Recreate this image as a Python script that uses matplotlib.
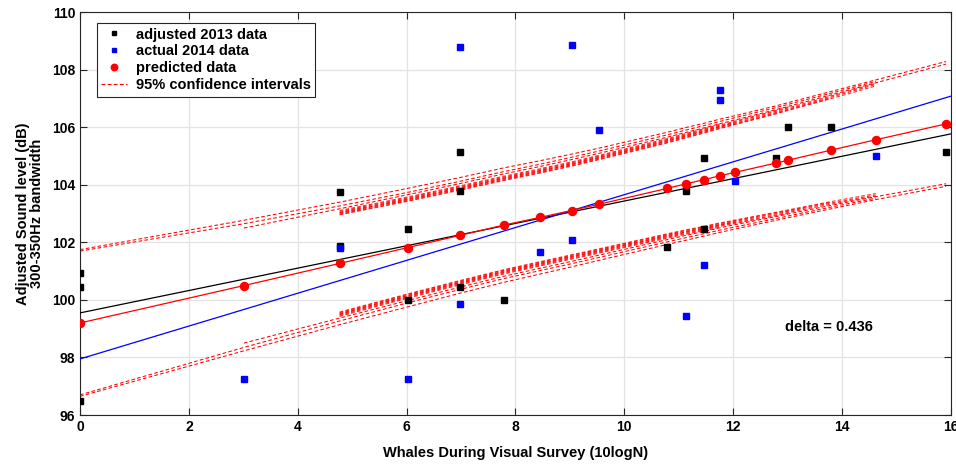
import numpy as np
import matplotlib
matplotlib.use("Agg")
import matplotlib.pyplot as plt

plt.rcParams['font.family'] = ['Liberation Sans', 'DejaVu Sans']
plt.rcParams['font.weight'] = 'bold'

# adjusted 2013 data (black squares)
x_2013 = [0, 0, 0, 4.77, 4.77, 6.02, 6.02, 6.99, 6.99, 6.99, 7.78,
          10.79, 11.14, 11.46, 11.46, 12.79, 13.01, 13.80, 15.91]
y_2013 = [100.95, 100.45, 96.5, 103.75, 101.87, 102.45, 100.0, 105.15, 103.8,
          100.45, 100.0, 101.85, 103.8, 104.95, 102.45, 104.95, 106.0, 106.0, 105.15]

# actual 2014 data (blue squares)
x_2014 = [3.01, 4.77, 6.02, 6.99, 6.99, 8.45, 9.03, 9.03, 9.54,
          11.14, 11.46, 11.76, 11.76, 12.04, 14.62]
y_2014 = [97.25, 101.82, 97.25, 108.8, 99.85, 101.65, 108.85, 102.1, 105.9,
          99.45, 101.2, 107.3, 106.95, 104.15, 105.0]

# predicted data (red circles)
x_pred = [0, 3.01, 4.77, 6.02, 6.99, 7.78, 8.45, 9.03, 9.54, 10.79,
          11.14, 11.46, 11.76, 12.04, 12.79, 13.01, 13.80, 14.62, 15.91]
y_pred = [99.2, 100.5, 101.27, 101.82, 102.25, 102.6, 102.87, 103.11, 103.33, 103.88,
          104.04, 104.18, 104.32, 104.44, 104.76, 104.86, 105.21, 105.57, 106.12]

# linear fits (intercept, slope)
fit_2013 = (99.55, 0.389)
fit_2014 = (97.95, 0.571)

# confidence interval half widths, one list per run (start index, end index)
ci_start = [0, 0, 1]
ci_end = [18, 17, 18]
ci_halfwidth = [
    [2.55, 2.27, 2.13, 2.06, 2.01, 1.99, 1.97, 1.96, 1.95, 1.95,
     1.96, 1.96, 1.97, 1.97, 1.99, 2.0, 2.04, 2.08, 2.17],
    [2.5, 2.15, 2.0, 1.92, 1.88, 1.86, 1.85, 1.85, 1.85, 1.86,
     1.87, 1.88, 1.89, 1.9, 1.93, 1.94, 1.98, 2.03],
    [2.0, 1.9, 1.84, 1.8, 1.78, 1.77, 1.77, 1.77, 1.78, 1.79,
     1.8, 1.81, 1.82, 1.86, 1.87, 1.92, 1.98, 2.08],
]
# tight bundle of runs starting at 4.77
bundle_halfwidth = [1.74, 1.66, 1.62, 1.6, 1.59, 1.59, 1.6, 1.63, 1.65, 1.67,
                    1.69, 1.71, 1.76, 1.78, 1.84, 1.92, 2.06]
bundle_shift = [0.0, 0.04, -0.03, 0.07, 0.02, -0.05, 0.1]
bundle_end = [17, 17, 16, 15, 13, 17, 12]

delta_text = "delta = 0.436"

fig = plt.figure(figsize=(9.56, 4.65), dpi=100)
ax = fig.add_axes([0.0837, 0.1075, 0.911, 0.866])

xp = np.array(x_pred)
yp = np.array(y_pred)

ci_kw = dict(color='red', lw=0.75, ls=(0, (3.5, 2.2)), zorder=2)
for s, e, hw in zip(ci_start, ci_end, ci_halfwidth):
    hw = np.array(hw)
    ax.plot(xp[s:e + 1], yp[s:e + 1] + hw, **ci_kw)
    ax.plot(xp[s:e + 1], yp[s:e + 1] - hw, **ci_kw)
for sh, e in zip(bundle_shift, bundle_end):
    hw = np.array(bundle_halfwidth[:e - 1]) + sh
    ax.plot(xp[2:e + 1], yp[2:e + 1] + hw, alpha=0.85, **ci_kw)
    ax.plot(xp[2:e + 1], yp[2:e + 1] - hw, alpha=0.85, **ci_kw)

xl = np.array([0, 16])
ax.plot(xl, fit_2013[0] + fit_2013[1] * xl, color='black', lw=0.9, zorder=3)
ax.plot(xl, fit_2014[0] + fit_2014[1] * xl, color='blue', lw=0.9, zorder=3)
ax.plot(xp, yp, color='red', lw=0.9, zorder=3)

ax.plot(x_2013, y_2013, 's', color='black', ms=4.3, ls='none', zorder=4,
        label='adjusted 2013 data')
ax.plot(x_2014, y_2014, 's', color='blue', ms=4.3, ls='none', zorder=4,
        label='actual 2014 data')
ax.plot(x_pred, y_pred, 'o', color='red', ms=5.8, ls='none', zorder=5,
        label='predicted data')
ax.plot([], [], color='red', lw=0.8, ls=(0, (3.5, 2)), label='95% confidence intervals')

ax.set_xlim(0, 16)
ax.set_ylim(96, 110)
ax.set_xticks(range(0, 17, 2))
ax.set_yticks(range(96, 111, 2))
ax.grid(True, color='#e3e3e3', lw=0.9)
ax.set_axisbelow(True)
ax.tick_params(direction='in', top=True, right=True, length=5, width=0.8,
               labelsize=10, colors='#262626', labelcolor='black')
for sp in ax.spines.values():
    sp.set_color('#262626')
    sp.set_linewidth(0.8)

ax.set_xlabel('Whales During Visual Survey (10logN)', fontsize=10.5,
              fontweight='bold', labelpad=9)
ax.set_ylabel('Adjusted Sound level (dB)\n300-350Hz bandwidth', fontsize=10.5,
              fontweight='bold', labelpad=6, linespacing=1.0)

ax.text(12.95, 99.05, delta_text, fontsize=10.5, fontweight='bold', va='center')

leg = ax.legend(loc='upper left', bbox_to_anchor=(0.019, 0.973), fontsize=10.5,
                handlelength=1.8, handletextpad=0.6, borderpad=0.3,
                labelspacing=0.2, fancybox=False, framealpha=1,
                edgecolor='#262626', borderaxespad=0, markerscale=0.8)
leg.get_frame().set_linewidth(0.8)

fig.savefig('out.png', dpi=100)
